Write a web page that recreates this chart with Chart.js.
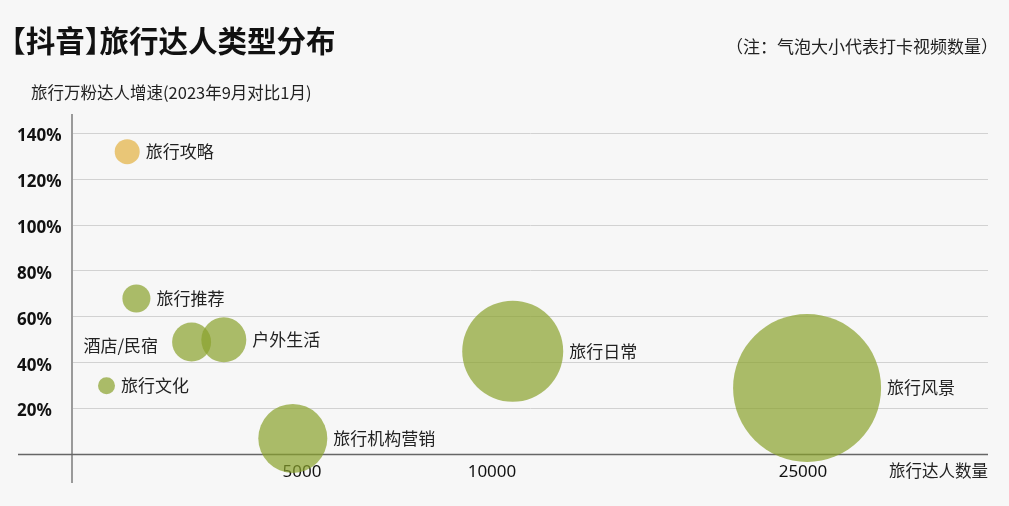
<!DOCTYPE html>
<html><head><meta charset="utf-8">
<script src="https://cdn.jsdelivr.net/npm/chart.js@4.4.0/dist/chart.umd.min.js"></script>
<style>
html,body{margin:0;padding:0;background:#f7f7f7;}
#wrap{position:relative;width:1009px;height:506px;overflow:hidden;background:#f7f7f7;}
#c{position:absolute;left:0;top:0;}
.t{position:absolute;white-space:nowrap;font-family:"Noto Sans CJK SC","Noto Sans",sans-serif;color:#111;}
#title{left:11px;top:25px;font-size:29.5px;line-height:29.5px;font-weight:700;font-feature-settings:"halt";}
#note{right:11px;top:37px;font-size:17px;line-height:17px;color:#222;}
#ytitle{left:31px;top:84px;font-size:16.5px;line-height:16.5px;color:#222;}
</style></head>
<body><div id="wrap">
<canvas id="c" width="1009" height="506"></canvas>
<div class="t" id="title">【抖音】旅行达人类型分布</div>
<div class="t" id="note">（注：气泡大小代表打卡视频数量）</div>
<div class="t" id="ytitle">旅行万粉达人增速(2023年9月对比1月)</div>
</div>
<script>
// ---- data ----
const categories   = ['旅行攻略','旅行推荐','酒店/民宿','户外生活','旅行文化','旅行机构营销','旅行日常','旅行风景'];
const creatorCounts = [1200, 1400, 2600, 3300, 750, 4800, 11000, 25200];   // 旅行达人数量
const growthRates   = [132, 68, 49, 50, 30, 7, 45, 29];                      // 增速 %
const videoBubble   = [12.5, 14, 19.5, 22.5, 8.5, 34.5, 50.5, 74];           // 气泡大小(打卡视频数量)
const xTickValues   = [5000, 10000, 25000];
const yTickValues   = [20, 40, 60, 80, 100, 120, 140];
const xAxisTitle    = '旅行达人数量';
const highlightCategory = '旅行攻略';
const leftLabelCategories = ['酒店/民宿'];

// ---- axis design: non-uniform x axis (piecewise) ----
const X_BREAKS = [0, 5000, 10000, 25000, 34000];
const X_FRACS  = [0, 0.2511, 0.4585, 0.798, 1];
function interp(v, xs, ys){
  for (let i = 1; i < xs.length; i++){
    if (v <= xs[i] || i === xs.length - 1){
      return ys[i-1] + (v - xs[i-1]) * (ys[i] - ys[i-1]) / (xs[i] - xs[i-1]);
    }
  }
}
const LinearBase = Chart.LinearScale || Chart.registry.getScale('linear');
class PiecewiseScale extends LinearBase {
  getPixelForValue(v){
    if (v === null || v === undefined) return NaN;
    return this.getPixelForDecimal(interp(v, X_BREAKS, X_FRACS));
  }
  getValueForPixel(p){
    return interp(this.getDecimalForPixel(p), X_FRACS, X_BREAKS);
  }
}
PiecewiseScale.id = 'piecewise';
PiecewiseScale.defaults = LinearBase.defaults;
Chart.register(PiecewiseScale);

const GREEN = 'rgba(137,161,43,0.7)';
const YELLOW = 'rgba(227,177,64,0.7)';
const CJK = '"Noto Sans CJK SC", "Noto Sans", sans-serif';

const baselinePlugin = {
  id: 'baseline',
  beforeDatasetsDraw(chart){
    const y0 = chart.scales.y.getPixelForValue(0);
    const ctx = chart.ctx;
    ctx.save();
    ctx.strokeStyle = '#666';
    ctx.lineWidth = 1.3;
    ctx.beginPath();
    ctx.moveTo(18, y0);
    ctx.lineTo(chart.chartArea.right, y0);
    ctx.stroke();
    ctx.restore();
  }
};

const labelPlugin = {
  id: 'bubbleLabels',
  afterDatasetsDraw(chart){
    const ctx = chart.ctx;
    const meta = chart.getDatasetMeta(0);
    ctx.save();
    ctx.font = '17px ' + CJK;
    ctx.fillStyle = '#222';
    ctx.textBaseline = 'middle';
    meta.data.forEach((el, i) => {
      const r = el.options.radius;
      const name = categories[i];
      if (leftLabelCategories.includes(name)){
        ctx.textAlign = 'right';
        ctx.fillText(name, el.x - r - 14, el.y + 3);
      } else {
        ctx.textAlign = 'left';
        ctx.fillText(name, el.x + r + 6, el.y);
      }
    });
    const y0 = chart.scales.y.getPixelForValue(0);
    ctx.font = '16.5px ' + CJK;
    ctx.textAlign = 'right';
    ctx.fillText(xAxisTitle, chart.chartArea.right, y0 + 16);
    ctx.restore();
  }
};

const points = categories.map((c, i) => ({x: creatorCounts[i], y: growthRates[i], r: videoBubble[i]}));

new Chart(document.getElementById('c'), {
  type: 'bubble',
  data: {
    labels: categories,
    datasets: [{
      data: points,
      backgroundColor: categories.map(c => c === highlightCategory ? YELLOW : GREEN),
      borderWidth: 0,
      hoverBorderWidth: 0
    }]
  },
  options: {
    responsive: false,
    animation: false,
    devicePixelRatio: 1,
    events: [],
    layout: { autoPadding: false, padding: { left: 17, top: 115, right: 21, bottom: 24 } },
    plugins: { legend: { display: false }, tooltip: { enabled: false }, title: { display: false } },
    scales: {
      x: {
        type: 'piecewise',
        position: { y: 0 },
        min: 0, max: 34000,
        afterBuildTicks: s => { s.ticks = xTickValues.map(v => ({value: v})); },
        grid: { display: false, drawTicks: false },
        border: { display: false },
        ticks: {
          autoSkip: false, maxRotation: 0, padding: 7,
          color: '#111',
          font: { family: '"Noto Sans", sans-serif', size: 17 },
          callback: v => String(v)
        }
      },
      y: {
        type: 'linear',
        min: -12, max: 148,
        afterBuildTicks: s => { s.ticks = yTickValues.map(v => ({value: v})); },
        afterFit: s => { s.width = 55; },
        grid: { color: '#d2d2d2', lineWidth: 1, drawTicks: false },
        border: { display: true, color: '#9a9a9a', width: 2 },
        ticks: {
          crossAlign: 'far', padding: 0, labelOffset: 3,
          color: '#111',
          font: { family: '"Noto Sans", sans-serif', size: 17, weight: 'bold' },
          callback: v => v + '%'
        }
      }
    }
  },
  plugins: [baselinePlugin, labelPlugin]
});
</script>
</body></html>
